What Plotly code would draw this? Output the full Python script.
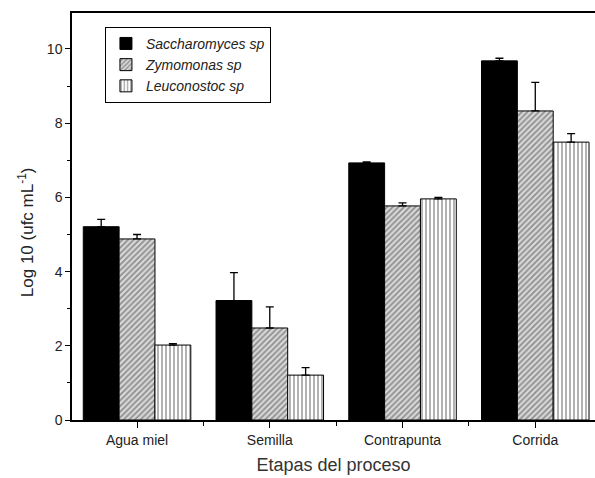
import plotly.graph_objects as go

categories = ["Agua miel", "Semilla", "Contrapunta", "Corrida"]
series_names = ["Saccharomyces sp", "Zymomonas sp", "Leuconostoc sp"]
sacch = [5.21, 3.22, 6.93, 9.68]
sacch_err = [0.20, 0.75, 0.03, 0.07]
zymo = [4.88, 2.48, 5.77, 8.33]
zymo_err = [0.12, 0.57, 0.08, 0.77]
leuco = [2.02, 1.21, 5.96, 7.49]
leuco_err = [0.04, 0.20, 0.04, 0.23]

values = [sacch, zymo, leuco]
errors = [sacch_err, zymo_err, leuco_err]
patterns = [
    dict(shape="", fgcolor="black", bgcolor="black"),
    dict(shape="/", fgcolor="#444444", bgcolor="#d8d8d8", size=4, solidity=0.45),
    dict(shape="|", fgcolor="black", bgcolor="white", size=4, solidity=0.3),
]
colors = ["black", "white", "white"]

x = list(range(len(categories)))
fig = go.Figure()
for name, v, e, p, c in zip(series_names, values, errors, patterns, colors):
    fig.add_trace(go.Bar(
        x=x, y=v, name=f"<i>{name}</i>",
        marker=dict(color=c, pattern=p, line=dict(color="black", width=1)),
        error_y=dict(type="data", array=e, arrayminus=[0] * len(e), symmetric=False,
                     color="black", thickness=1.3, width=4),
    ))

fig.add_annotation(
    text="Log 10 (ufc mL<sup>-1</sup>)", textangle=-90,
    xref="paper", yref="paper", x=-0.0875, y=0.462,
    xanchor="center", yanchor="middle", showarrow=False,
    font=dict(size=17, color="#222222"),
)

fig.update_layout(
    width=595, height=478,
    margin=dict(l=72, r=0, t=13, b=58),
    paper_bgcolor="white", plot_bgcolor="white",
    barmode="group", bargap=0.19, bargroupgap=0,
    font=dict(family="Liberation Sans, Arial, sans-serif", color="#222222", size=12),
    legend=dict(x=0.063, y=0.966, xanchor="left", yanchor="top",
                bordercolor="black", borderwidth=1, bgcolor="white",
                font=dict(size=14, color="#222222"), tracegroupgap=0,
                itemwidth=30),
    xaxis=dict(
        range=[-0.49, 3.45], tickvals=x, ticktext=categories,
        showline=True, linecolor="black", linewidth=1.5, mirror=True,
        ticks="outside", ticklen=6, tickcolor="black", tickwidth=1.2,
        minor=dict(tick0=0.5, dtick=1, ticks="outside", ticklen=4, tickcolor="black"),
        showgrid=False, zeroline=False,
        tickfont=dict(size=14),
        title=dict(text="Etapas del proceso", font=dict(size=18, color="#333333"), standoff=12),
    ),
    yaxis=dict(
        range=[0, 10.97], tickvals=[0, 2, 4, 6, 8, 10],
        showline=True, linecolor="black", linewidth=1.5,
        ticks="outside", ticklen=5, tickcolor="black", tickwidth=1.2,
        minor=dict(tick0=1, dtick=2, ticks="outside", ticklen=3, tickcolor="black"),
        showgrid=False, zeroline=False,
        tickfont=dict(size=14),
    ),
)

fig.write_html(
    "out.html",
    config={"displayModeBar": False},
    post_script="document.body.style.margin='0';document.body.style.overflow='hidden';",
)
